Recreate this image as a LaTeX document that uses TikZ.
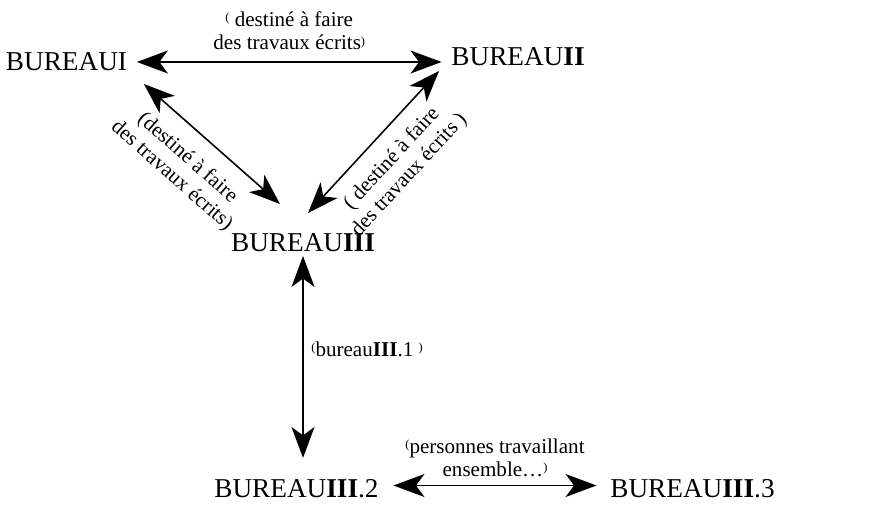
\documentclass[tikz,border=0pt]{standalone}
\usepackage{fontspec}
\setmainfont{Liberation Serif}
\usetikzlibrary{arrows.meta}
\newcommand{\lpar}{\raisebox{0.5ex}{\scriptsize(}}
\newcommand{\rpar}{\raisebox{0.5ex}{\scriptsize)}}

\begin{document}
\begin{tikzpicture}[bureau/.style={font=\fontsize{15.5}{17}\selectfont, inner sep=2pt},
    note/.style={font=\fontsize{12}{13.5}\selectfont, align=center},
    link/.style={{Stealth[length=0.62cm,width=0.46cm,inset=0.17cm]}-{Stealth[length=0.62cm,width=0.46cm,inset=0.17cm]}, line width=0.9pt}]
    \useasboundingbox (0,0) rectangle (17.68,10.08);
    \node[bureau] (b1) at (1.33, 8.84) {BUREAUI};
    \node[bureau] (b2) at (10.36, 8.95) {BUREAU\textbf{II}};
    \node[bureau] (b3) at (6.06, 5.22) {BUREAU\textbf{III}};
    \node[bureau] (b32) at (5.93, 0.3) {BUREAU\textbf{III}.2};
    \node[bureau] (b33) at (13.85, 0.3) {BUREAU\textbf{III}.3};
    \draw[link] ([xshift=0.12cm]b1.east) -- ([xshift=-0.12cm]b1.east -| b2.west)
      node[note, midway, above=3pt] {\lpar{} destiné à faire\\des travaux écrits\rpar};
    \draw[link] ([shift={(0.26,-0.18)}]b1.south east) -- ([shift={(-0.46,0.52)}]b3.north)
      node[note, pos=0.45, sloped, below=6pt] {(destiné à faire\\des travaux écrits)};
    \draw[link] ([shift={(-0.17,-0.03)}]b2.south west) -- ([shift={(0.1,0.34)}]b3.north)
      node[note, midway, sloped, below=5pt] {( destiné à faire\\des travaux écrits )};
    \draw[link] (b3.south) -- ([yshift=0.36cm]b3.south |- b32.north)
      node[note, pos=0.46, right=1pt] {\lpar bureau\textbf{III}.1 \rpar};
    \draw[link] ([shift={(0.22,0.07)}]b32.east) -- ([shift={(-0.2,0.07)}]b33.west)
      node[note, midway, above=1pt] {\lpar personnes travaillant\\ensemble\dots\rpar};
\end{tikzpicture}
\end{document}
